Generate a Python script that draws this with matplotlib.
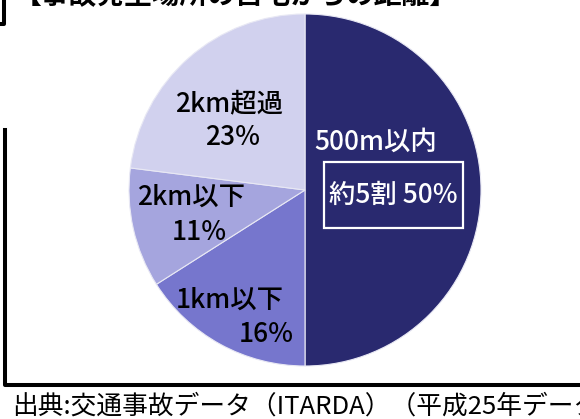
import matplotlib.pyplot as plt
from matplotlib.lines import Line2D
from matplotlib.patches import Rectangle

plt.rcParams['font.family'] = ['Noto Sans CJK JP', 'DejaVu Sans']

# data (clockwise from 12 o'clock)
categories = ['500m以内', '1km以下', '2km以下', '2km超過']
shares = [50, 16, 11, 23]
colors = ['#29296f', '#7676cd', '#a5a5de', '#d1d1ee']

title = '【事故発生場所の自宅からの距離】'
source = '出典:交通事故データ（ITARDA）（平成25年データ）'

W, H = 580, 419
fig = plt.figure(figsize=(W / 100, H / 100), dpi=100)

# pie: centre (305, 190) px, radius 176 px
cx, cy, r = 305, 190, 176
ax = fig.add_axes([(cx - r) / W, (H - cy - r) / H, 2 * r / W, 2 * r / H])
ax.pie(shares, colors=colors, startangle=90, counterclock=False,
       radius=1, wedgeprops=dict(edgecolor='#e8e8f4', linewidth=0.8))
ax.set_xlim(-1, 1)
ax.set_ylim(-1, 1)
ax.set_aspect('equal')
ax.axis('off')

# labels
fs = 19
kw = dict(fontsize=fs, ha='center', va='center', fontweight='medium')
ax.text(0.40, 0.27, categories[0], color='white', **kw)
ax.text(0.50, -0.03, f'約5割 {shares[0]}%', color='white', **kw)
ax.add_patch(Rectangle((0.11, -0.215), 0.785, 0.375, fill=False,
                       edgecolor='white', linewidth=1.6))

ax.text(-0.43, -0.625, categories[1], **kw)
ax.text(-0.22, -0.82, f'{shares[1]}%', **kw)
ax.text(-0.65, -0.04, categories[2], **kw)
ax.text(-0.60, -0.24, f'{shares[2]}%', **kw)
ax.text(-0.43, 0.49, categories[3], **kw)
ax.text(-0.41, 0.30, f'{shares[3]}%', **kw)

# frame lines (pixel coords -> figure fraction)
def px(x, y):
    return x / W, 1 - y / H

lw = 2.9
x0, y0 = px(4.5, 130)
x1, y1 = px(4.5, 385)
x2, _ = px(600, 385)
fig.add_artist(Line2D([x0, x1, x2], [y0, y1, y1], color='black', lw=lw,
                      solid_joinstyle='round'))
a0, b0 = px(3.5, -5)
a1, b1 = px(3.5, 24)
a2, _ = px(-5, 24)
fig.add_artist(Line2D([a0, a1, a2], [b0, b1, b1], color='black', lw=lw,
                      solid_joinstyle='round'))

# title cut off at the top edge, as in the source image
tx, ty = px(14, 4)
fig.text(tx, ty, title, fontsize=20, ha='left', va='baseline',
         fontweight='bold')
sx, sy = px(12, 414)
fig.text(sx, sy, source, fontsize=18.5, ha='left', va='baseline')

fig.savefig('out.png', dpi=100)
